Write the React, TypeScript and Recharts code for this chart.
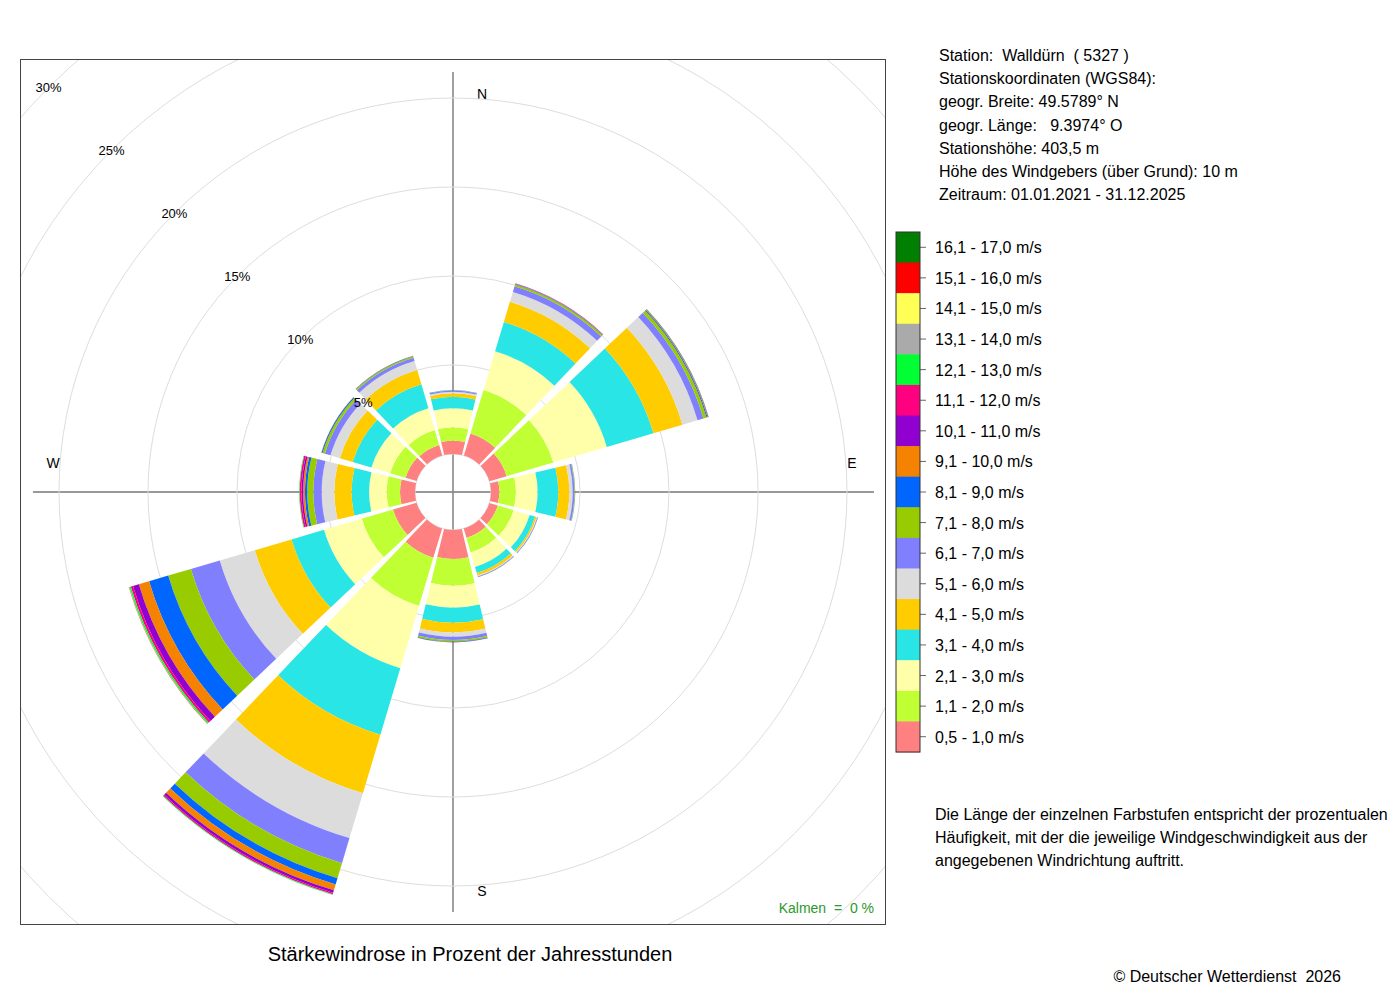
import React from 'react';
import { RadialBarChart, RadialBar, PolarAngleAxis, PolarRadiusAxis, PolarGrid } from 'recharts';

// wind directions, 30° sectors clockwise from north
const directions = ['N', 'NNE', 'ENE', 'E', 'ESE', 'SSE', 'S', 'SSW', 'WSW', 'W', 'WNW', 'NNW'];

const speedClasses = [
  '0,5 - 1,0 m/s', '1,1 - 2,0 m/s', '2,1 - 3,0 m/s', '3,1 - 4,0 m/s', '4,1 - 5,0 m/s',
  '5,1 - 6,0 m/s', '6,1 - 7,0 m/s', '7,1 - 8,0 m/s', '8,1 - 9,0 m/s', '9,1 - 10,0 m/s',
  '10,1 - 11,0 m/s', '11,1 - 12,0 m/s', '12,1 - 13,0 m/s', '13,1 - 14,0 m/s', '14,1 - 15,0 m/s',
  '15,1 - 16,0 m/s', '16,1 - 17,0 m/s',
];

const classColors = [
  '#ff8080', '#bfff33', '#ffffaa', '#29e5e5', '#ffcc00', '#dcdcdc', '#8080ff', '#99cc00',
  '#0066ff', '#f58200', '#9000d0', '#ff0080', '#00ff33', '#aaaaaa', '#ffff55', '#ff0000', '#007f00',
];

// percent of hours per speed class (lowest class first)
const pctN   = [0.75, 0.75, 1.07, 0.65, 0.19, 0.09, 0.06, 0.02, 0.01, 0, 0, 0, 0, 0, 0, 0, 0];
const pctNNE = [1.30, 2.54, 2.28, 1.72, 1.18, 0.58, 0.33, 0.10, 0.03, 0.02, 0.01, 0.01, 0, 0, 0, 0, 0];
const pctENE = [1.01, 2.73, 3.13, 2.73, 1.70, 0.88, 0.35, 0.18, 0.06, 0.03, 0.02, 0.01, 0.01, 0, 0, 0, 0];
const pctE   = [0.47, 0.93, 1.22, 1.16, 0.62, 0.19, 0.10, 0.03, 0.01, 0, 0, 0, 0, 0, 0, 0, 0];
const pctESE = [0.49, 0.93, 0.94, 0.32, 0.09, 0.04, 0.04, 0.01, 0, 0, 0, 0, 0, 0, 0, 0, 0];
const pctSSE = [0.55, 0.85, 0.85, 0.36, 0.14, 0.06, 0.04, 0.01, 0, 0, 0, 0, 0, 0, 0, 0, 0];
const pctS   = [1.63, 1.50, 1.23, 0.85, 0.54, 0.24, 0.19, 0.08, 0.03, 0.01, 0.01, 0, 0, 0, 0, 0, 0];
const pctSSW = [1.72, 2.83, 3.65, 3.90, 3.43, 2.63, 1.47, 0.88, 0.37, 0.34, 0.15, 0.08, 0.03, 0.01, 0, 0, 0];
const pctWSW = [1.38, 1.83, 2.21, 1.90, 2.15, 2.05, 1.69, 1.33, 1.12, 0.60, 0.34, 0.13, 0.08, 0.02, 0.01, 0.01, 0];
const pctW   = [0.84, 0.75, 0.99, 0.98, 0.97, 0.71, 0.47, 0.34, 0.13, 0.10, 0.09, 0.10, 0.03, 0.01, 0, 0, 0];
const pctWNW = [0.65, 0.90, 1.10, 1.10, 0.75, 0.55, 0.33, 0.14, 0.06, 0.01, 0, 0, 0, 0, 0, 0, 0];
const pctNNW = [0.62, 0.88, 1.27, 1.40, 0.84, 0.53, 0.19, 0.07, 0.03, 0.01, 0, 0, 0, 0, 0, 0, 0];

const byDirection = [pctN, pctNNE, pctENE, pctE, pctESE, pctSSE, pctS, pctSSW, pctWSW, pctW, pctWNW, pctNNW];

const ringTicks = [0, 5, 10, 15, 20, 25, 30];

const stationLines = [
  'Station:  Walldürn  ( 5327 )',
  'Stationskoordinaten (WGS84):',
  'geogr. Breite: 49.5789° N',
  'geogr. Länge:   9.3974° O',
  'Stationshöhe: 403,5 m',
  'Höhe des Windgebers (über Grund): 10 m',
  'Zeitraum: 01.01.2021 - 31.12.2025',
];

const noteLines = [
  'Die Länge der einzelnen Farbstufen entspricht der prozentualen',
  'Häufigkeit, mit der die jeweilige Windgeschwindigkeit aus der',
  'angegebenen Windrichtung auftritt.',
];

const rows = directions.map((dir, i) => {
  const row: Record<string, string | number> = { dir };
  byDirection[i].forEach((v, k) => {
    row[`c${k}`] = v;
  });
  return row;
});

const FONT = '"Liberation Sans", Arial, Helvetica, sans-serif';

const RingTick = (props: any) => {
  const { x, y, payload } = props;
  if (!payload || payload.value === 0) return null;
  return (
    <text x={x} y={y} textAnchor="middle" dominantBaseline="central" fontSize={13} fontFamily={FONT} fill="#000">
      {`${payload.value}%`}
    </text>
  );
};

const BOX = 864;
const C = BOX / 2;

export default function App() {
  const legendTop = 232;
  const legendH = 520 / speedClasses.length;
  const legendOrder = speedClasses.map((_, k) => speedClasses.length - 1 - k);

  return (
    <div style={{ position: 'absolute', left: 0, top: 0, width: 1400, height: 1000, background: '#fff', fontFamily: FONT, color: '#000' }}>
      <div
        style={{
          position: 'absolute', left: 20, top: 59, width: BOX + 2, height: BOX + 2,
          boxSizing: 'border-box', border: '1px solid #444', overflow: 'hidden',
        }}
      >
        <svg width={BOX} height={BOX} style={{ position: 'absolute', left: 0, top: 0 }}>
          <line x1={12} y1={C} x2={853} y2={C} stroke="#333" strokeWidth={1} />
          <line x1={C} y1={12} x2={C} y2={852} stroke="#888" strokeWidth={1.6} />
          <text x={461} y={34} textAnchor="middle" dominantBaseline="central" fontSize={14} fontFamily={FONT}>N</text>
          <text x={461} y={831} textAnchor="middle" dominantBaseline="central" fontSize={14} fontFamily={FONT}>S</text>
          <text x={32} y={403} textAnchor="middle" dominantBaseline="central" fontSize={14} fontFamily={FONT}>W</text>
          <text x={831} y={403} textAnchor="middle" dominantBaseline="central" fontSize={14} fontFamily={FONT}>E</text>
          <text x={853} y={848} textAnchor="end" dominantBaseline="central" fontSize={14} fontFamily={FONT} fill="#2b9a2b" style={{ whiteSpace: 'pre' }}>
            {'Kalmen  =  0 %'}
          </text>
        </svg>
        <div style={{ position: 'absolute', left: 0, top: 0 }}>
          <RadialBarChart
            width={BOX}
            height={BOX}
            data={rows}
            layout="centric"
            cx="50%"
            cy="50%"
            innerRadius={38}
            outerRadius={572}
            startAngle={75}
            endAngle={-285}
            barCategoryGap="4.5%"
            margin={{ top: 0, right: 0, bottom: 0, left: 0 }}
          >
            <PolarGrid gridType="circle" radialLines={false} stroke="#dddddd" />
            <PolarAngleAxis type="category" dataKey="dir" tick={false} axisLine={false} tickLine={false} />
            {speedClasses.map((name, k) => (
              <RadialBar
                key={name}
                name={name}
                dataKey={`c${k}`}
                stackId="wind"
                fill={classColors[k]}
                isAnimationActive={false}
              />
            ))}
            <PolarRadiusAxis
              type="number"
              domain={[0, 30]}
              ticks={ringTicks}
              angle={135}
              axisLine={false}
              tickLine={false}
              tick={RingTick}
              allowDataOverflow
            />
          </RadialBarChart>
        </div>
      </div>

      <div style={{ position: 'absolute', left: 20, width: 900, top: 954, transform: 'translateY(-50%)', textAlign: 'center', fontSize: 20 }}>
        Stärkewindrose in Prozent der Jahresstunden
      </div>

      {stationLines.map((t, i) => (
        <div key={t} style={{ position: 'absolute', left: 939, top: 56 + i * 23.2, transform: 'translateY(-50%)', fontSize: 16, whiteSpace: 'pre' }}>
          {t}
        </div>
      ))}

      <svg width={60} height={540} style={{ position: 'absolute', left: 890, top: 225 }}>
        {legendOrder.map((k, i) => (
          <g key={k}>
            <rect x={6} y={legendTop - 225 + i * legendH} width={24} height={legendH + 0.5} fill={classColors[k]} />
            <line x1={30} x2={36} y1={legendTop - 225 + (i + 0.5) * legendH} y2={legendTop - 225 + (i + 0.5) * legendH} stroke="#666" />
          </g>
        ))}
        <rect x={6} y={legendTop - 225} width={24} height={520} fill="none" stroke="#333" />
      </svg>
      {legendOrder.map((k, i) => (
        <div key={k} style={{ position: 'absolute', left: 935, top: legendTop + 1 + (i + 0.5) * legendH, transform: 'translateY(-50%)', fontSize: 16 }}>
          {speedClasses[k]}
        </div>
      ))}

      {noteLines.map((t, i) => (
        <div key={t} style={{ position: 'absolute', left: 935, top: 815 + i * 23, transform: 'translateY(-50%)', fontSize: 16 }}>
          {t}
        </div>
      ))}

      <div style={{ position: 'absolute', right: 59, top: 977, transform: 'translateY(-50%)', fontSize: 16, whiteSpace: 'pre' }}>
        {'© Deutscher Wetterdienst  2026'}
      </div>
    </div>
  );
}
